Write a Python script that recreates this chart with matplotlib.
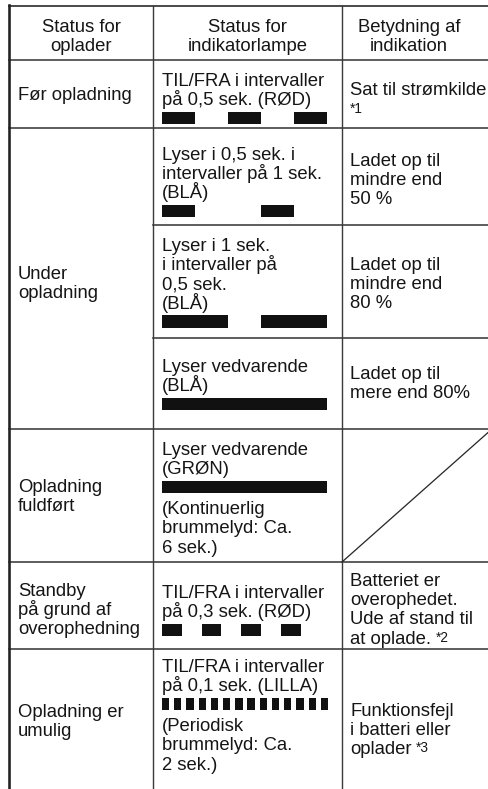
import matplotlib
matplotlib.use("Agg")
import matplotlib.pyplot as plt
from matplotlib.lines import Line2D

plt.rcParams['font.family'] = ['Liberation Sans', 'DejaVu Sans']

# ---------------- data ----------------
header_texts = [["Status for", "oplader"],
                ["Status for", "indikatorlampe"],
                ["Betydning af", "indikation"]]

charger_status = [["Før opladning"],
                  ["Under", "opladning"],
                  ["Opladning", "fuldført"],
                  ["Standby", "på grund af", "overophedning"],
                  ["Opladning er", "umulig"]]

# lamp description per sub-row: text before the blink bar, text after it
lamp_text_before = [["TIL/FRA i intervaller", "på 0,5 sek. (RØD)"],
                    ["Lyser i 0,5 sek. i", "intervaller på 1 sek.", "(BLÅ)"],
                    ["Lyser i 1 sek.", "i intervaller på", "0,5 sek.", "(BLÅ)"],
                    ["Lyser vedvarende", "(BLÅ)"],
                    ["Lyser vedvarende", "(GRØN)"],
                    ["TIL/FRA i intervaller", "på 0,3 sek. (RØD)"],
                    ["TIL/FRA i intervaller", "på 0,1 sek. (LILLA)"]]
lamp_text_after = [[], [], [], [],
                   ["(Kontinuerlig", "brummelyd: Ca.", "6 sek.)"],
                   [],
                   ["(Periodisk", "brummelyd: Ca.", "2 sek.)"]]

# blink patterns (seconds): on time, off time, number of pulses
blink_on = [0.5, 0.5, 1.0, 2.5, 2.5, 0.3, 0.11]
blink_off = [0.5, 1.0, 0.5, 0.0, 0.0, 0.3, 0.075]
blink_count = [3, 2, 2, 1, 1, 4, 14]

meaning_texts = [["Sat til strømkilde"],
                 ["Ladet op til", "mindre end", "50 %"],
                 ["Ladet op til", "mindre end", "80 %"],
                 ["Ladet op til", "mere end 80%"],
                 None,
                 ["Batteriet er", "overophedet.", "Ude af stand til", "at oplade."],
                 ["Funktionsfejl", "i batteri eller", "oplader"]]
meaning_notes = ["*1", None, None, None, None, "*2", "*3"]

# ---------------- layout ----------------
W, H = 489, 789
fig = plt.figure(figsize=(W / 100, H / 100), dpi=100)
ax = fig.add_axes([0, 0, 1, 1])
ax.set_xlim(0, W)
ax.set_ylim(H, 0)
ax.axis('off')

FS = 13.3          # pt  (~18.5 px em)
FS_NOTE = 9.8
LS = 19.2          # baseline spacing in px
TXT = '#151515'
LINE = '#3a3a3a'
PX_PER_S = 66.0
BAR_H = 12.5

x_left, x_c1, x_c2, x_right = 9, 153, 342, 492
y_top = 6

px = 100 / 72  # px per pt


def lw(pxw):
    return pxw / px


# grid lines
ax.add_line(Line2D([x_left, W], [y_top, y_top], color=LINE, lw=lw(1.8)))
for y in [60, 128, 429, 562, 649]:
    ax.add_line(Line2D([x_left, W], [y, y], color=LINE, lw=lw(1.6)))
for y in [225, 338]:
    ax.add_line(Line2D([x_c1, W], [y, y], color=LINE, lw=lw(1.6)))
ax.add_line(Line2D([x_left, x_left], [y_top - 0.8, H], color='#222222', lw=lw(2.6)))
for x in [x_c1, x_c2]:
    ax.add_line(Line2D([x, x], [y_top, H], color=LINE, lw=lw(1.4)))
# diagonal in empty cell
ax.add_line(Line2D([x_c2, x_right], [562, 429], color='#2a2a2a', lw=lw(1.3)))


def put(x, y, s, ha='left', size=FS):
    return ax.text(x, y, s, ha=ha, va='baseline', fontsize=size, color=TXT)


# header
col_centers = [81, 247.5, 409]
for cx, lines in zip(col_centers, header_texts):
    for i, s in enumerate(lines):
        put(cx, 31.5 + i * LS, s, ha='center')

# column 1
c1_first = [100, 279, 492, 596, 717]
for y0, lines in zip(c1_first, charger_status):
    for i, s in enumerate(lines):
        put(18, y0 + i * LS, s)

# column 2 : text + blink bars
c2_first = [86, 160, 251, 372, 455, 598, 672]
for k in range(7):
    y = c2_first[k]
    for i, s in enumerate(lamp_text_before[k]):
        put(162, y + i * LS, s)
    last = y + (len(lamp_text_before[k]) - 1) * LS
    bar_top = last + 6.5
    period = blink_on[k] + blink_off[k]
    xr = [(162 + j * period * PX_PER_S, blink_on[k] * PX_PER_S)
          for j in range(blink_count[k])]
    ax.broken_barh(xr, (bar_top, BAR_H), facecolors='#111111', edgecolor='none')
    yb = bar_top + BAR_H + 21
    for i, s in enumerate(lamp_text_after[k]):
        put(162, yb + i * LS, s)

# column 3
c3_first = [95, 166, 270, 379, None, 586, 716]
renderer = fig.canvas.get_renderer()
inv = ax.transData.inverted()
for k in range(7):
    lines = meaning_texts[k]
    if lines is None:
        continue
    y = c3_first[k]
    last_t = None
    for i, s in enumerate(lines):
        last_t = put(350, y + i * LS, s)
    note = meaning_notes[k]
    if note:
        if k == 0:
            put(350, y + 17.5, note, size=FS_NOTE)
        else:
            ly = y + (len(lines) - 1) * LS
            bb = last_t.get_window_extent(renderer=renderer)
            xe = inv.transform((bb.x1, bb.y0))[0] + 4.5
            put(xe, ly - 2, note, size=FS_NOTE)

fig.savefig("out.png", dpi=100)
